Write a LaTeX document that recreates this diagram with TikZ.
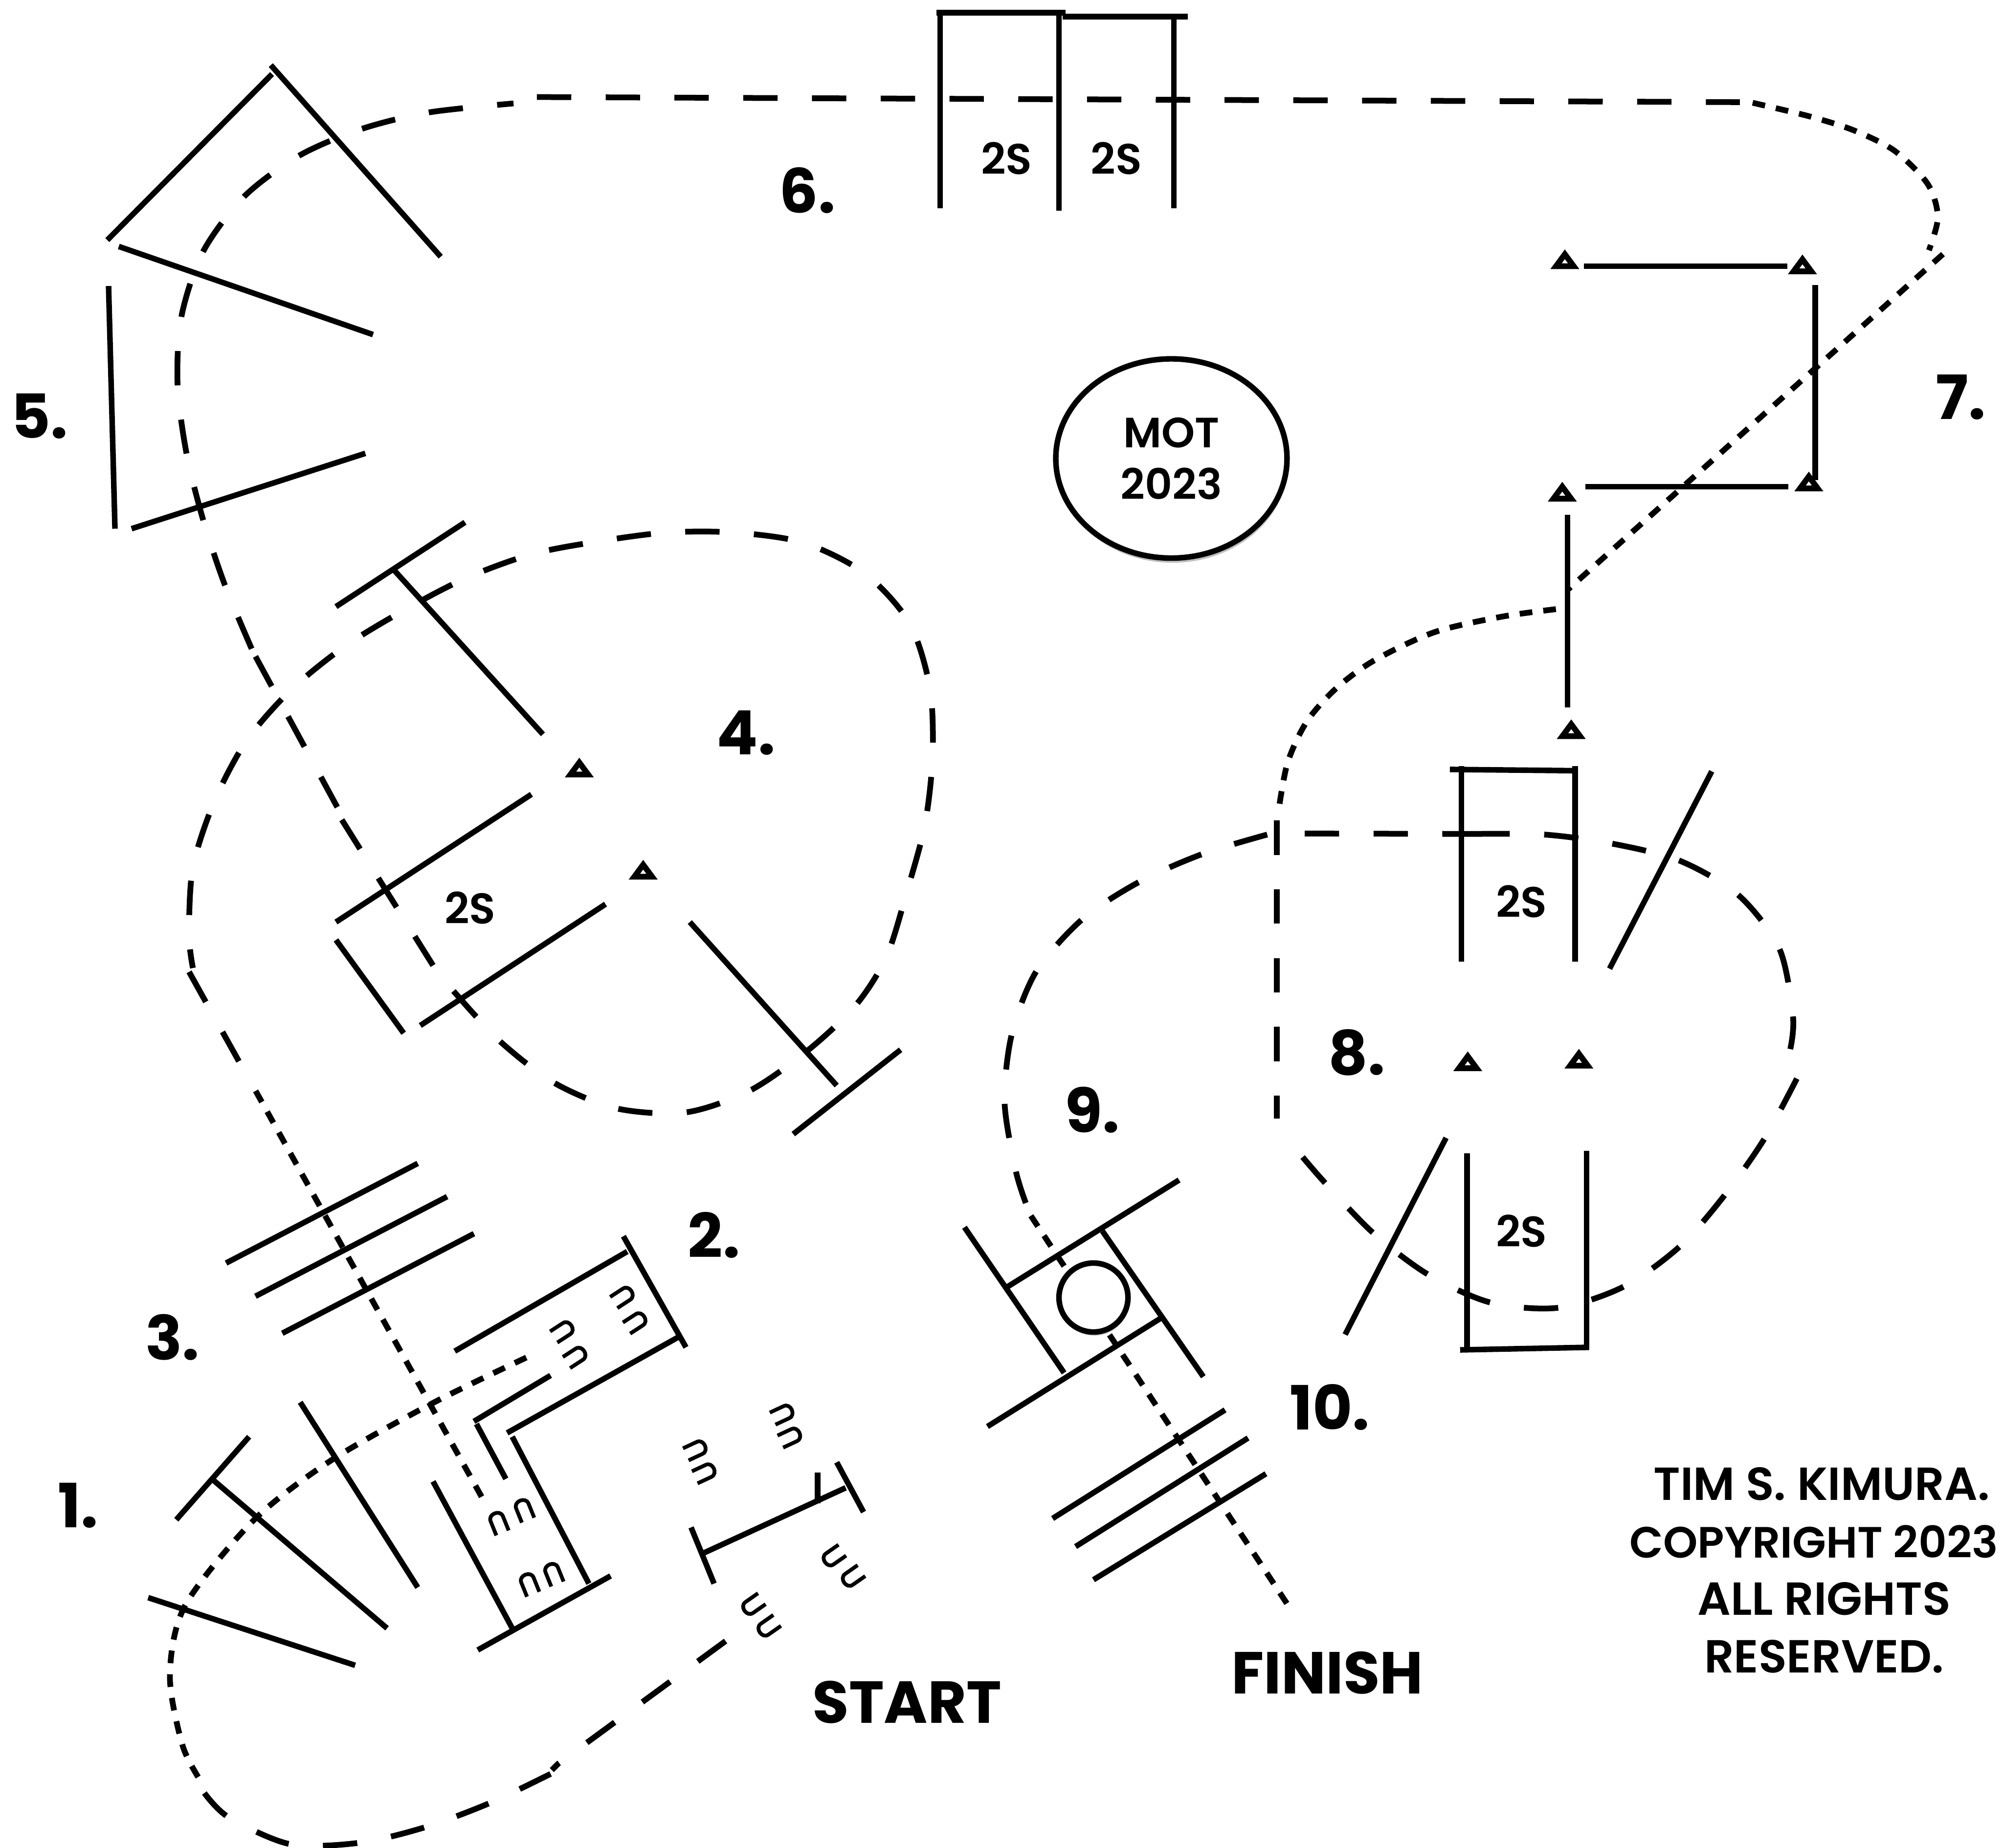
\documentclass[tikz,border=0pt]{standalone}
\usepackage{fontspec}
\setmainfont{Poppins}
\newfontfamily\medfont{Poppins SemiBold}
\usetikzlibrary{shadows,shapes.geometric}

\begin{document}
\begin{tikzpicture}[
    x=0.0125cm, y=-0.0125cm,
    wall/.style={line width=1.55pt, line cap=butt},
    conemark/.style={line width=1.6pt, miter limit=10},
    course/.style={line width=1.6pt, dash pattern=on 9.57pt off 9.57pt},
    dotline/.style={line width=1.6pt, dash pattern=on 3.54pt off 3.08pt},
    hairline/.style={line width=1.05pt},
    hairpin/.pic={\draw[hairline] (-9,-5.2) -- (3,-5.2) .. controls (9,-5.2) and (9,5.2) .. (3,5.2) -- (-9,5.2);},
    num/.style={font=\fontsize{17}{17}\selectfont\bfseries, inner sep=0pt},
    word/.style={font=\fontsize{16.5}{16.5}\selectfont\bfseries, inner sep=0pt},
    smalltxt/.style={font=\medfont\fontsize{12}{12}\selectfont, inner sep=0pt},
    copytxt/.style={font=\medfont\fontsize{12.9}{12.9}\selectfont, inner sep=0pt}
]
\useasboundingbox (0,0) rectangle (1568,1447);

% course
\draw[dotline] plot[smooth] coordinates {(412,1063) (340,1098) (260,1143) (199,1190) (145,1257) (133,1312) (143,1367) (158,1396)};
\draw[course] plot[smooth] coordinates {(431,1389) (383,1412) (332,1431) (281,1443) (227,1444) (179,1423) (160,1404)};
\draw[course] (568,1285) -- (437,1381) -- (432,1386);
\draw[dotline] (377,1172) -- (200,854);
\draw[course] (148,761) -- (187,831);
\draw[course] plot[smooth] coordinates {(355,776) (391,815) (434,848) (483,868) (537,871) (587,854) (633,822) (670,787) (694,749) (710,698) (724,646) (730,593) (728,539) (712,488) (677,449) (629,425) (575,417) (522,417) (468,424) (416,434) (364,453) (316,478) (270,506) (228,540) (193,580) (168,627) (151,679) (148,732) (151,758)};
\draw[course] (339,756) -- (267,641);
\draw[course] (264,632) -- (200,514);
\draw[course] plot[smooth] coordinates {(197,508) (176,458) (159,407) (146,355) (139,301) (142,248) (159,197) (191,154) (234,122) (283,101) (336,88) (402,81)};
\draw[course] (420.3,76) -- (1362,80);
\draw[dotline] plot[smooth] coordinates {(1372,80.5) (1416,91) (1451,102) (1483,118) (1509,144) (1517,170) (1510,196)};
\draw[dotline] (1521,199) -- (1227,462);
\draw[dotline] plot[smooth] coordinates {(1218,477) (1175,483) (1123,495) (1076,517) (1046,539) (1023,565) (1008,597) (1001,634)};
\draw[course] (1021.4,652.7) -- (1155,653);
\draw[course] plot[smooth] coordinates {(1155,653) (1209,653.5) (1262,660.6) (1315,674) (1361,701) (1393,743) (1403.6,796) (1401.5,821.5)};
\draw[course] plot[smooth] coordinates {(1406.6,844.6) (1381,892) (1350,936) (1315,976) (1271,1007.5) (1220,1024) (1167,1020) (1118,998) (1075,965.5) (1038,927) (1019.7,906)};
\draw[course] (999.6,642.5) -- (999.6,876);
\draw[course] plot[smooth] coordinates {(992,653.5) (940.5,669) (891,691) (847,720) (811,761) (792,810) (786.4,863) (795,916) (803,942)};
\draw[dotline] (807,952) -- (1009,1258);

% 1
\draw[wall] (138,1190) -- (195,1125);
\draw[wall] (167,1159) -- (303,1275);
\draw[wall] (235,1098) -- (327,1243);
\draw[wall] (116,1251) -- (278,1304);
% 2
\draw[wall] (356,1058) -- (491,980);
\draw[wall] (488,968) -- (537,1055);
\draw[wall] (397,1122) -- (531,1047);
\draw[wall] (371,1113) -- (431,1077);
\draw[wall] (373,1115) -- (396,1158);
\draw[wall] (401,1125) -- (461,1240);
\draw[wall] (339,1160) -- (401,1275);
\draw[wall] (374,1292) -- (478,1234);
\draw[wall] (541,1196) -- (559,1240);
\draw[wall] (551,1216) -- (662,1165);
\draw[wall] (655,1145) -- (676,1184);
\draw[wall] (640,1153) -- (640,1177);
\foreach \px/\py/\rot in {488/1015/33, 498/1035/33, 441/1042/33, 451/1062/33,
    390/1192/112, 410/1182/112, 414/1240/112, 433/1232/112,
    545/1135/25, 552/1153/25, 613/1107/25, 619/1125/25,
    652/1219/215, 667/1235/215, 589/1257/215, 601/1274/215}
    \pic[rotate=\rot] at (\px,\py) {hairpin};
% 3
\draw[wall] (177,989) -- (327,911);
\draw[wall] (200,1015) -- (350,937);
\draw[wall] (221,1044) -- (371,966);
% 4
\draw[wall] (263,475) -- (364,409);
\draw[wall] (309,447) -- (425,575);
\draw[wall] (263,722) -- (416,622);
\draw[wall] (263,736) -- (316,809);
\draw[wall] (329,803) -- (474,708);
\draw[wall] (540,722) -- (655,850);
\draw[wall] (621,888) -- (705,822);
% 5
\draw[wall] (84,188) -- (213,58);
\draw[wall] (212,51) -- (345,201);
\draw[wall] (93,193) -- (292,262);
\draw[wall] (85,224) -- (90,414);
\draw[wall] (103,414) -- (286,355);
% 6
\draw[wall] (733,10) -- (834,10);
\draw[wall] (832,13) -- (930,13);
\draw[wall] (736,10) -- (736,163);
\draw[wall] (829,10) -- (829,165);
\draw[wall] (919,13) -- (919,163);
% 7
\draw[wall] (1240,208.5) -- (1399,208.5);
\draw[wall] (1421,223) -- (1421,376);
\draw[wall] (1241,381) -- (1400,381);
\draw[wall] (1227,403) -- (1227,554);
% 8
\draw[wall] (1135,602.5) -- (1235,603.5);
\draw[wall] (1144,600) -- (1144,753);
\draw[wall] (1233,600) -- (1233,753);
\draw[wall] (1260,758.5) -- (1340,604);
\draw[wall] (1132,891) -- (1053,1045);
\draw[wall] (1148.5,903) -- (1148.5,1057);
\draw[wall] (1242,901) -- (1242,1056);
\draw[wall] (1143,1057) -- (1244,1055);
% 9
\draw[wall] (755,961) -- (833,1075);
\draw[wall] (788,1008) -- (923,924);
\draw[wall] (863,964) -- (942,1078);
\draw[wall] (773,1117) -- (909,1032);
% 10
\draw[wall] (824,1189) -- (959,1104);
\draw[wall] (842,1211) -- (977,1126);
\draw[wall] (856,1237) -- (991,1154);

\foreach \cx/\cy in {1225/203, 1411/207, 1416/377, 1223/385, 1230/571,
    453.5/601, 503.5/681, 1149/831, 1236/829}
    \draw[conemark] (\cx-6.9,\cy+5.45) -- (\cx,\cy-3.9) -- (\cx+6.9,\cy+5.45) -- cycle;

\node[draw, wall, fill=white, circle, inner sep=0pt, minimum size=54*0.0125cm, drop shadow={shadow xshift=0.3pt, shadow yshift=-1pt, opacity=0.5}] (tunnel) at (856,1016) {};
\node[draw, wall, fill=white, ellipse, inner sep=0pt, minimum width=181*0.0125cm, minimum height=156*0.0125cm, drop shadow={shadow xshift=0.3pt, shadow yshift=-1.3pt, opacity=0.5}, align=center, font=\medfont\fontsize{11.8}{14.4}\selectfont] (mot) at (917,359) {MOT\\2023};

\node[num] (lblone) at (61,1179) {1.};
\node[num] (lbltwo) at (559,967) {2.};
\node[num] (lblthree) at (135,1047) {3.};
\node[num] (lblfour) at (584,574) {4.};
\node[num] (lblfive) at (31,326) {5.};
\node[num] (lblsix) at (632,149) {6.};
\node[num] (lblseven) at (1535,311) {7.};
\node[num] (lbleight) at (1062,824) {8.};
\node[num] (lblnine) at (855,869) {9.};
\node[num] (lblten) at (1041,1102) {10.};
\node[word] (start) at (710,1333) {START};
\node[word] (finish) at (1039,1310) {FINISH};
\node[smalltxt] (twosa) at (788,124) {2S};
\node[smalltxt] (twosb) at (874,124) {2S};
\node[smalltxt] (twosc) at (368,711) {2S};
\node[smalltxt] (twosd) at (1191,706) {2S};
\node[smalltxt] (twose) at (1191,964) {2S};
\node[copytxt] (tim) at (1426,1162) {TIM S. KIMURA.};
\node[copytxt, font=\medfont\fontsize{12.2}{12.2}\selectfont] (copyr) at (1420,1207) {COPYRIGHT 2023};
\node[copytxt] (rights) at (1428,1252) {ALL RIGHTS};
\node[copytxt] (reserved) at (1428,1297) {RESERVED.};
\end{tikzpicture}
\end{document}
